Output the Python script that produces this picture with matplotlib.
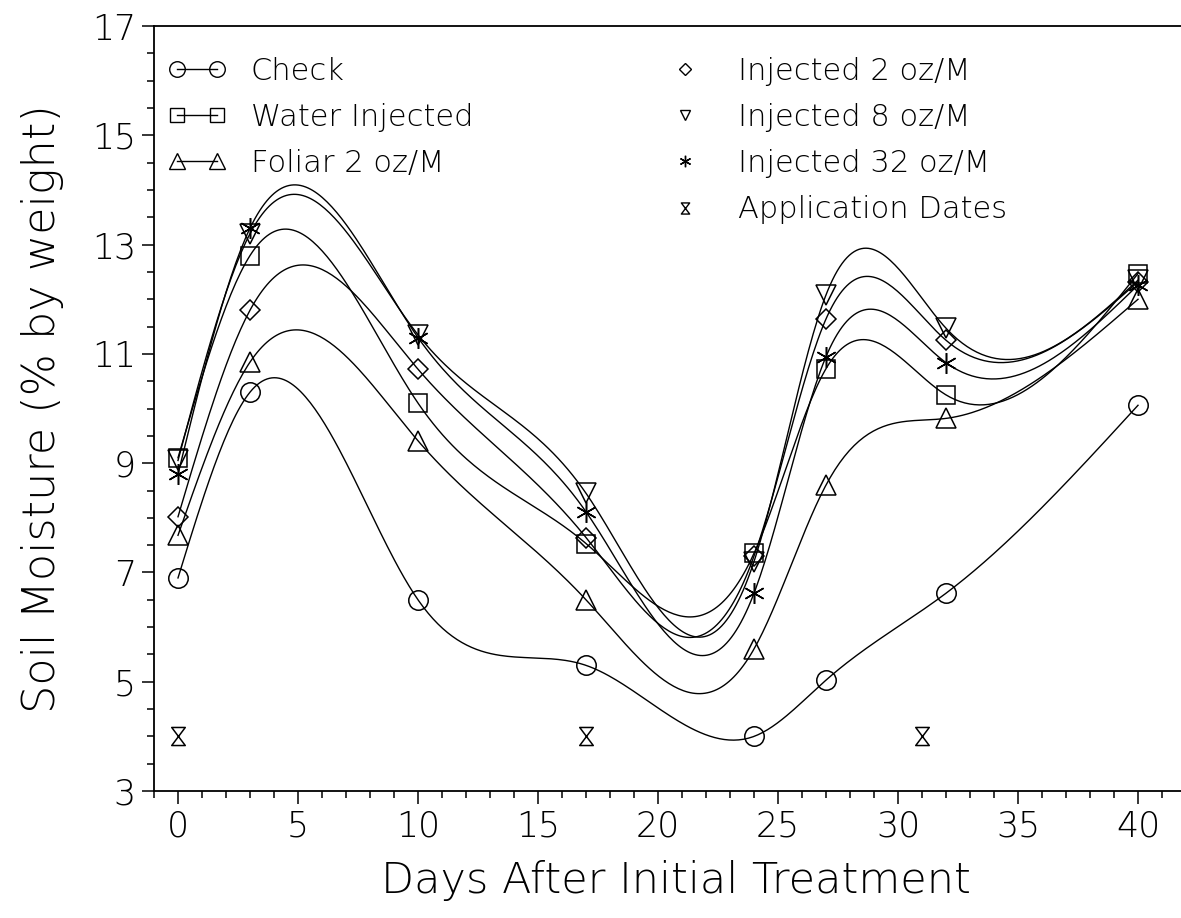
import numpy as np
import matplotlib
matplotlib.use("Agg")
import matplotlib.pyplot as plt
from matplotlib.path import Path
from matplotlib.lines import Line2D
from matplotlib.ticker import MultipleLocator

plt.rcParams['font.family'] = ['DejaVu Sans']
plt.rcParams['font.weight'] = 'light'
plt.rcParams['axes.labelweight'] = 'light'

# sampling days
days = [0, 3, 10, 17, 24, 27, 32, 40]

check = [6.9, 10.3, 6.5, 5.3, 4.0, 5.03, 6.62, 10.06]
water = [9.1, 12.8, 10.1, 7.53, 7.35, 10.73, 10.25, 12.47]
foliar2 = [7.68, 10.85, 9.41, 6.5, 5.6, 8.6, 9.82, 12.0]
inj2 = [8.02, 11.8, 10.72, 7.64, 7.3, 11.64, 11.25, 12.32]
inj8 = [9.05, 13.2, 11.35, 8.45, 7.2, 12.08, 11.47, 12.35]
inj32 = [8.8, 13.3, 11.3, 8.11, 6.62, 10.95, 10.84, 12.26]

app_days = [0, 17, 31]
app_level = [4, 4, 4]


def natural_spline(x, y, n=400):
    x = np.asarray(x, float)
    y = np.asarray(y, float)
    h = np.diff(x)
    m = len(x)
    A = np.zeros((m, m))
    r = np.zeros(m)
    A[0, 0] = A[-1, -1] = 1
    for i in range(1, m - 1):
        A[i, i - 1] = h[i - 1]
        A[i, i] = 2 * (h[i - 1] + h[i])
        A[i, i + 1] = h[i]
        r[i] = 6 * ((y[i + 1] - y[i]) / h[i] - (y[i] - y[i - 1]) / h[i - 1])
    M = np.linalg.solve(A, r)
    xs = np.linspace(x[0], x[-1], n)
    k = np.clip(np.searchsorted(x, xs) - 1, 0, m - 2)
    hk = h[k]
    a = x[k + 1] - xs
    b = xs - x[k]
    ys = (M[k] * a**3 + M[k + 1] * b**3) / (6 * hk) \
        + (y[k] / hk - M[k] * hk / 6) * a + (y[k + 1] / hk - M[k + 1] * hk / 6) * b
    return xs, ys


hourglass = Path([(-0.75, 1), (0.75, 1), (-0.75, -1), (0.75, -1), (-0.75, 1)],
                 [Path.MOVETO, Path.LINETO, Path.LINETO, Path.LINETO, Path.CLOSEPOLY])
asterisk = (6, 2, 0)

series = [
    ("Check", check, 'o', 14),
    ("Water Injected", water, 's', 13),
    ("Foliar 2 oz/M", foliar2, '^', 14),
    ("Injected 2 oz/M", inj2, 'D', 10.5),
    ("Injected 8 oz/M", inj8, 'v', 14),
    ("Injected 32 oz/M", inj32, asterisk, 15),
]

fig = plt.figure(figsize=(11.81, 9.18), dpi=100)
ax = fig.add_axes([0.1304, 0.1383, 0.884, 0.8333])

for name, vals, mk, ms in series:
    xs, ys = natural_spline(days, vals)
    ax.plot(xs, ys, color='black', lw=1.0)
    ax.plot(days, vals, ls='none', marker=mk, ms=ms, mfc='none', mec='black', mew=1.1)

ax.plot(app_days, app_level, ls='none', marker=hourglass, ms=13, mfc='none', mec='black', mew=1.1)

ax.set_xlim(-1, 42.5)
ax.set_ylim(3, 17)
ax.xaxis.set_major_locator(MultipleLocator(5))
ax.xaxis.set_minor_locator(MultipleLocator(1))
ax.set_yticks([3, 5, 7, 9, 11, 13, 15, 17])
ax.yaxis.set_minor_locator(MultipleLocator(0.5))
ax.tick_params(which='both', direction='out', width=1.1, labelsize=25, colors='black')
ax.tick_params(which='major', length=9, pad=4)
ax.tick_params(which='minor', length=5)
ax.spines['right'].set_visible(False)
for s in ['left', 'bottom', 'top']:
    ax.spines[s].set_linewidth(1.3)

ax.set_xlabel("Days After Initial Treatment", fontsize=31, labelpad=12)
ax.set_ylabel("Soil Moisture (% by weight)", fontsize=32, labelpad=20)

# legends
left_handles = [Line2D([], [], color='black', lw=1.0, marker=mk, ms=ms * 0.8,
                       mfc='none', mec='black', mew=1.0)
                for name, vals, mk, ms in series[:3]]
leg1 = ax.legend(left_handles, [s[0] for s in series[:3]], loc='upper left',
                 bbox_to_anchor=(0.142, 0.938), bbox_transform=fig.transFigure,
                 frameon=False, numpoints=2, handlelength=1.9, handletextpad=0.82,
                 labelspacing=0.56, borderpad=0, borderaxespad=0, fontsize=22)
ax.add_artist(leg1)

right_handles = [Line2D([], [], ls='none', marker=mk, ms=ms * 0.55,
                        mfc='none', mec='black', mew=1.0)
                 for name, vals, mk, ms in series[3:]]
right_handles.append(Line2D([], [], ls='none', marker=hourglass, ms=8,
                            mfc='none', mec='black', mew=1.0))
right_labels = [s[0] for s in series[3:]] + ["Application Dates"]
ax.legend(right_handles, right_labels, loc='upper left',
          bbox_to_anchor=(0.567, 0.938), bbox_transform=fig.transFigure,
          frameon=False, numpoints=1, handlelength=1.0, handletextpad=1.23,
          labelspacing=0.56, borderpad=0, borderaxespad=0, fontsize=22)

fig.savefig("out.png", dpi=100)
